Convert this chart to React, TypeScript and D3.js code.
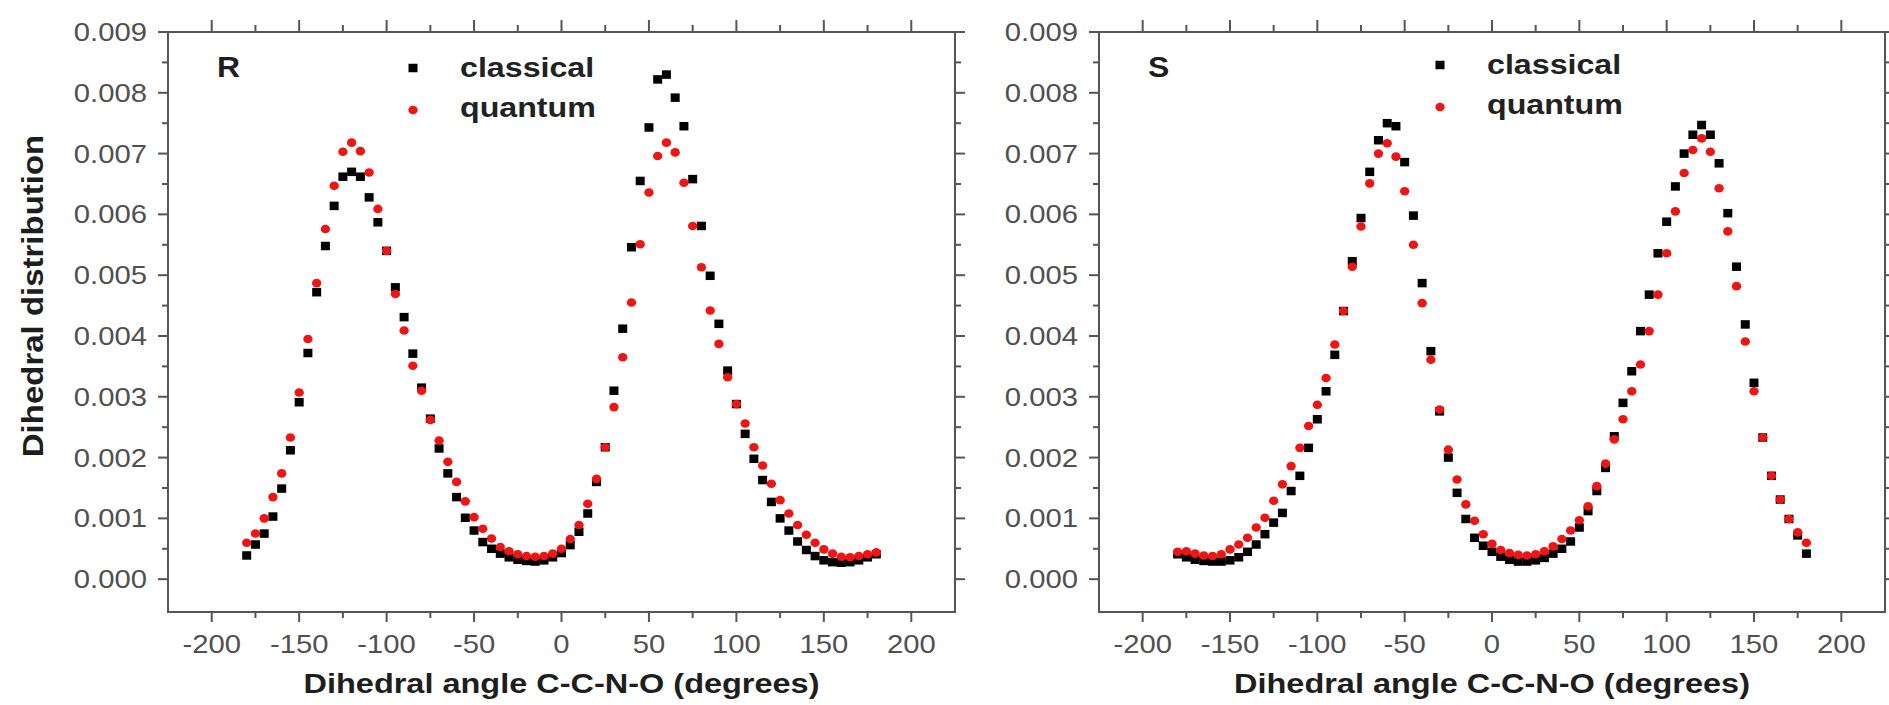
import React from 'react';
import * as d3 from 'd3';

// ---------------- data ----------------
const angles = [
  -180, -175, -170, -165, -160, -155, -150, -145, -140, -135,
  -130, -125, -120, -115, -110, -105, -100, -95, -90, -85,
  -80, -75, -70, -65, -60, -55, -50, -45, -40, -35,
  -30, -25, -20, -15, -10, -5, 0, 5, 10, 15,
  20, 25, 30, 35, 40, 45, 50, 55, 60, 65,
  70, 75, 80, 85, 90, 95, 100, 105, 110, 115,
  120, 125, 130, 135, 140, 145, 150, 155, 160, 165,
  170, 175, 180,
];

const classicalR = [
  0.00039, 0.00057, 0.00075, 0.00103, 0.00149, 0.00212, 0.00291, 0.00372, 0.00472, 0.00548,
  0.00614, 0.00662, 0.00670, 0.00662, 0.00628, 0.00587, 0.00540, 0.00480, 0.00431, 0.00371,
  0.00315, 0.00264, 0.00215, 0.00174, 0.00135, 0.00101, 0.00080, 0.00061, 0.00050, 0.00042,
  0.00036, 0.00032, 0.00030, 0.00029, 0.00031, 0.00036, 0.00043, 0.00056, 0.00078, 0.00108,
  0.00160, 0.00217, 0.00310, 0.00412, 0.00546, 0.00655, 0.00743, 0.00822, 0.00830, 0.00792,
  0.00745, 0.00658, 0.00581, 0.00499, 0.00420, 0.00343, 0.00288, 0.00239, 0.00198, 0.00163,
  0.00127, 0.00100, 0.00080, 0.00062, 0.00048, 0.00038, 0.00031, 0.00028, 0.00027, 0.00028,
  0.00031, 0.00036, 0.00041,
];

const quantumR = [
  0.00060, 0.00075, 0.00100, 0.00135, 0.00174, 0.00233, 0.00307, 0.00395, 0.00487, 0.00576,
  0.00647, 0.00703, 0.00718, 0.00704, 0.00669, 0.00609, 0.00540, 0.00469, 0.00409, 0.00351,
  0.00310, 0.00262, 0.00228, 0.00193, 0.00160, 0.00128, 0.00102, 0.00083, 0.00067, 0.00053,
  0.00046, 0.00041, 0.00038, 0.00037, 0.00038, 0.00042, 0.00050, 0.00066, 0.00089, 0.00124,
  0.00165, 0.00217, 0.00283, 0.00365, 0.00455, 0.00551, 0.00636, 0.00696, 0.00718, 0.00702,
  0.00652, 0.00581, 0.00513, 0.00442, 0.00387, 0.00332, 0.00288, 0.00256, 0.00217, 0.00187,
  0.00157, 0.00130, 0.00108, 0.00089, 0.00073, 0.00060, 0.00049, 0.00042, 0.00037, 0.00036,
  0.00038, 0.00041, 0.00044,
];

const classicalS = [
  0.00041, 0.00036, 0.00032, 0.00030, 0.00029, 0.00029, 0.00031, 0.00036, 0.00045, 0.00057,
  0.00074, 0.00093, 0.00109, 0.00145, 0.00170, 0.00216, 0.00263, 0.00309, 0.00369, 0.00441,
  0.00523, 0.00594, 0.00670, 0.00722, 0.00750, 0.00745, 0.00686, 0.00598, 0.00487, 0.00375,
  0.00276, 0.00200, 0.00142, 0.00099, 0.00068, 0.00055, 0.00045, 0.00037, 0.00032, 0.00029,
  0.00029, 0.00031, 0.00035, 0.00042, 0.00050, 0.00062, 0.00085, 0.00112, 0.00145, 0.00183,
  0.00235, 0.00290, 0.00342, 0.00408, 0.00468, 0.00536, 0.00588, 0.00646, 0.00700, 0.00731,
  0.00747, 0.00731, 0.00684, 0.00602, 0.00514, 0.00419, 0.00323, 0.00233, 0.00170, 0.00131,
  0.00099, 0.00072, 0.00042,
];

const quantumS = [
  0.00045, 0.00046, 0.00042, 0.00039, 0.00038, 0.00041, 0.00049, 0.00057, 0.00068, 0.00085,
  0.00101, 0.00129, 0.00156, 0.00186, 0.00216, 0.00252, 0.00287, 0.00331, 0.00386, 0.00441,
  0.00514, 0.00580, 0.00651, 0.00700, 0.00717, 0.00695, 0.00638, 0.00550, 0.00454, 0.00361,
  0.00279, 0.00213, 0.00164, 0.00123, 0.00096, 0.00074, 0.00058, 0.00048, 0.00043, 0.00040,
  0.00039, 0.00041, 0.00046, 0.00054, 0.00066, 0.00080, 0.00097, 0.00120, 0.00153, 0.00190,
  0.00230, 0.00263, 0.00309, 0.00353, 0.00408, 0.00468, 0.00536, 0.00605, 0.00668, 0.00706,
  0.00725, 0.00703, 0.00643, 0.00572, 0.00482, 0.00391, 0.00309, 0.00233, 0.00170, 0.00131,
  0.00099, 0.00077, 0.00060,
];

const xTicks = [-200, -150, -100, -50, 0, 50, 100, 150, 200];
const xMinorTicks = [-175, -125, -75, -25, 25, 75, 125, 175];
const yTicks = [0, 0.001, 0.002, 0.003, 0.004, 0.005, 0.006, 0.007, 0.008, 0.009];
const yMinorTicks = [0.0005, 0.0015, 0.0025, 0.0035, 0.0045, 0.0055, 0.0065, 0.0075, 0.0085];
const seriesNames = ['classical', 'quantum'];
const panelLabels = ['R', 'S'];
const xTitle = 'Dihedral angle C-C-N-O (degrees)';
const yTitle = 'Dihedral distribution';

// ---------------- layout ----------------
const W = 1889;
const H = 705;
const TOP = 32;
const BOTTOM = 612;
const FONT = "'Liberation Sans', Arial, Helvetica, sans-serif";
const AXIS = '#555555';
const LABEL = '#505050';
const RED = '#ee1515';

type SProps = {
  x: number; y: number; sx?: number; anchor?: string; size: number;
  weight?: string | number; fill?: string; rotate?: number; children: React.ReactNode;
};
function SText({ x, y, sx = 1.17, anchor = 'start', size, weight = 'normal', fill = LABEL, rotate, children }: SProps) {
  const t = `translate(${x},${y})${rotate ? ` rotate(${rotate})` : ''} scale(${sx},1)`;
  return (
    <text transform={t} textAnchor={anchor as any} fontSize={size} fontWeight={weight}
      fill={fill} fontFamily={FONT}>{children}</text>
  );
}

type PanelProps = {
  x0: number; x1: number; classical: number[]; quantum: number[]; label: string;
  legendX: number; legendY: number; showYTitle: boolean;
};

function Panel({ x0, x1, classical, quantum, label, legendX, legendY, showYTitle }: PanelProps) {
  const x = d3.scaleLinear().domain([-225, 225]).range([x0, x1]);
  const y = d3.scaleLinear().domain([-0.00054, 0.009]).range([BOTTOM, TOP]);
  const sqW = 9, sqH = 8.5;
  const cx = (x0 + x1) / 2;
  return (
    <g>
      {/* frame */}
      <rect x={x0} y={TOP} width={x1 - x0} height={BOTTOM - TOP} fill="none" stroke={AXIS} strokeWidth={2} />
      {/* x ticks bottom & top */}
      {xTicks.map((t) => (
        <g key={'xt' + t}>
          <line x1={x(t)} x2={x(t)} y1={BOTTOM} y2={BOTTOM + 10} stroke={AXIS} strokeWidth={2} />
          <line x1={x(t)} x2={x(t)} y1={TOP} y2={TOP - 12} stroke={AXIS} strokeWidth={2} />
          <SText x={x(t)} y={653} anchor="middle" size={25}>{String(t)}</SText>
        </g>
      ))}
      {xMinorTicks.map((t) => (
        <g key={'xm' + t}>
          <line x1={x(t)} x2={x(t)} y1={BOTTOM} y2={BOTTOM + 6} stroke={AXIS} strokeWidth={2} />
          <line x1={x(t)} x2={x(t)} y1={TOP} y2={TOP - 7} stroke={AXIS} strokeWidth={2} />
        </g>
      ))}
      {/* y ticks left & right */}
      {yTicks.map((t) => (
        <g key={'yt' + t}>
          <line x1={x0} x2={x0 - 10} y1={y(t)} y2={y(t)} stroke={AXIS} strokeWidth={2} />
          <line x1={x1} x2={x1 + 10} y1={y(t)} y2={y(t)} stroke={AXIS} strokeWidth={2} />
          <SText x={x0 - 21} y={y(t) + 9} anchor="end" size={25}>{d3.format('.3f')(t)}</SText>
        </g>
      ))}
      {yMinorTicks.map((t) => (
        <g key={'ym' + t}>
          <line x1={x0} x2={x0 - 6} y1={y(t)} y2={y(t)} stroke={AXIS} strokeWidth={2} />
          <line x1={x1} x2={x1 + 6} y1={y(t)} y2={y(t)} stroke={AXIS} strokeWidth={2} />
        </g>
      ))}
      {/* titles */}
      <SText x={cx} y={693} anchor="middle" size={28} sx={1.16} weight="bold" fill="#1e1e1e">{xTitle}</SText>
      {showYTitle && (
        <SText x={43} y={296} anchor="middle" size={30} sx={1.1} weight="bold" fill="#1e1e1e" rotate={-90}>{yTitle}</SText>
      )}
      <SText x={x0 + 49} y={77} size={29} sx={1.1} weight="bold" fill="#1e1e1e">{label}</SText>
      {/* legend */}
      <rect x={legendX - sqW / 2} y={legendY - sqH / 2} width={sqW} height={sqH} fill="#000" />
      <ellipse cx={legendX} cy={legendY + 42} rx={4.7} ry={4.3} fill={RED} />
      <SText x={legendX + 47} y={legendY + 9} size={28} sx={1.15} weight="bold" fill="#222">{seriesNames[0]}</SText>
      <SText x={legendX + 47} y={legendY + 49} size={28} sx={1.15} weight="bold" fill="#222">{seriesNames[1]}</SText>
      {/* data */}
      {classical.map((v, i) => (
        <rect key={'c' + i} x={x(angles[i]) - sqW / 2} y={y(v) - sqH / 2} width={sqW} height={sqH} fill="#000" />
      ))}
      {quantum.map((v, i) => (
        <ellipse key={'q' + i} cx={x(angles[i])} cy={y(v)} rx={4.7} ry={4.3} fill={RED} />
      ))}
    </g>
  );
}

export default function App() {
  return (
    <svg width={W} height={H} viewBox={`0 0 ${W} ${H}`}
      style={{ position: 'absolute', left: 0, top: 0, background: '#fff' }}>
      <rect x={0} y={0} width={W} height={H} fill="#fff" />
      <Panel x0={168} x1={955} classical={classicalR} quantum={quantumR} label={panelLabels[0]}
        legendX={413} legendY={68} showYTitle={true} />
      <Panel x0={1099} x1={1885} classical={classicalS} quantum={quantumS} label={panelLabels[1]}
        legendX={1440} legendY={65} showYTitle={false} />
    </svg>
  );
}
